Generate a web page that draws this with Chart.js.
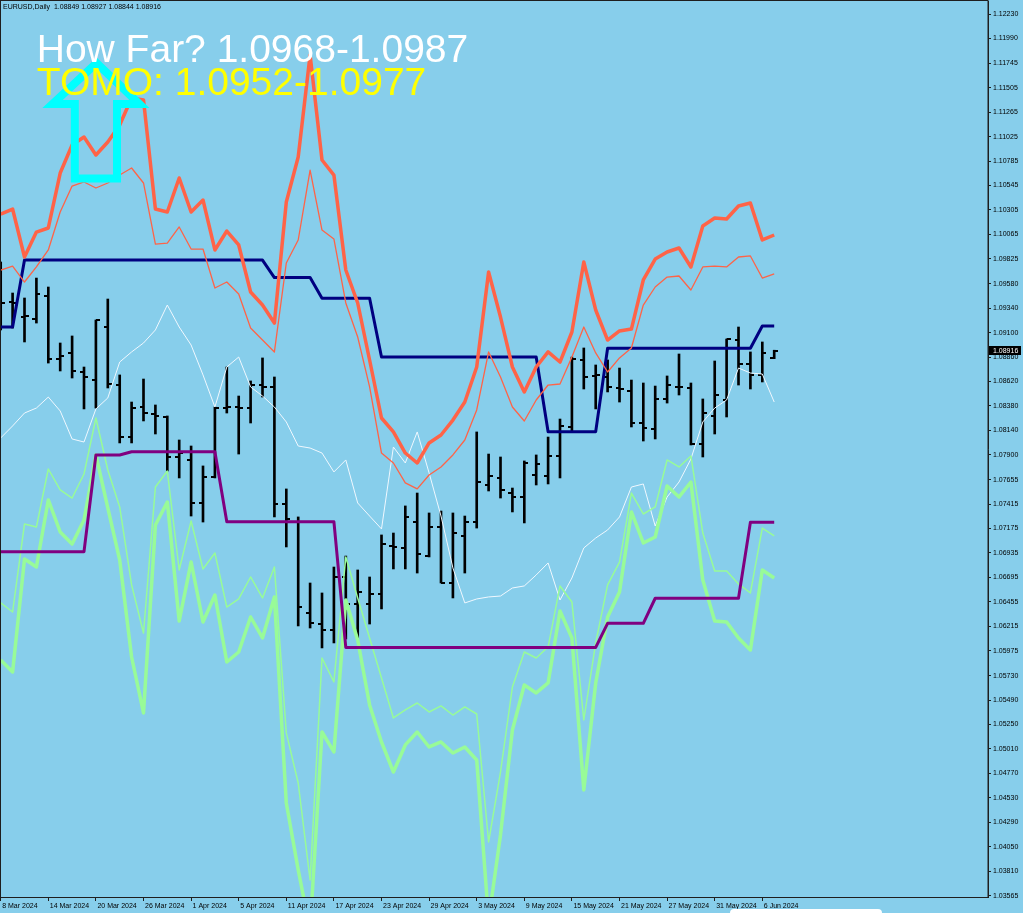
<!DOCTYPE html>
<html>
<head>
<meta charset="utf-8">
<script src="https://cdn.jsdelivr.net/npm/chart.js@4.4.1/dist/chart.umd.min.js"></script>
<style>
html, body { margin: 0; padding: 0; background: #87CEEB; }
canvas { display: block; }
</style>
</head>
<body>
<canvas id="eurusdCanvas" width="1023" height="913"></canvas>
<script>
// EURUSD daily, 8 Mar 2024 .. 7 Jun 2024 (one entry per trading day)
const barOpen = [1.09371,1.09401,1.09253,1.09234,1.09460,1.08841,1.08900,1.08713,1.08634,1.09155,
    1.08585,1.08074,1.08369,1.08300,1.08271,1.07878,1.07849,1.07426,1.07682,1.08359,
    1.08369,1.08359,1.08585,1.08566,1.07416,1.07239,1.06345,1.06237,1.06178,1.06699,
    1.06434,1.06434,1.06532,1.07004,1.06984,1.07239,1.06905,1.07190,1.06640,1.07102,
    1.07239,1.07603,1.07672,1.07524,1.07485,1.07701,1.07691,1.07888,1.08173,1.08831,
    1.08674,1.08664,1.08556,1.08526,1.08212,1.08153,1.08448,1.08566,1.08556,1.08006,
    1.08281,1.08438,1.09027,1.08792,1.08684,1.08849];
const barHigh = [1.09794,1.09489,1.09440,1.09636,1.09548,1.08998,1.09067,1.08762,1.09224,1.09430,
    1.08684,1.08418,1.08644,1.08389,1.08281,1.08045,1.07986,1.07790,1.08369,1.08762,
    1.08477,1.08625,1.08851,1.08664,1.07564,1.07289,1.06640,1.06542,1.06797,1.06905,
    1.06768,1.06699,1.07112,1.07131,1.07397,1.07524,1.07328,1.07347,1.07328,1.07298,
    1.08124,1.07907,1.07878,1.07573,1.07839,1.07898,1.08074,1.08251,1.08860,1.08949,
    1.08782,1.08831,1.08752,1.08634,1.08605,1.08575,1.08674,1.08890,1.08605,1.08448,
    1.08821,1.09037,1.09155,1.08910,1.09008,1.08927];
const barLow = [1.09126,1.09145,1.09008,1.09194,1.08801,1.08723,1.08654,1.08350,1.08359,1.08556,
    1.08016,1.08016,1.08232,1.08104,1.07740,1.07672,1.07298,1.07239,1.07672,1.08310,
    1.07907,1.08212,1.08467,1.07289,1.06994,1.06218,1.06198,1.06002,1.06051,1.06090,
    1.06090,1.06237,1.06385,1.06778,1.06778,1.06738,1.06896,1.06640,1.06493,1.06738,
    1.07180,1.07544,1.07475,1.07338,1.07230,1.07603,1.07613,1.07672,1.08124,1.08546,
    1.08350,1.08517,1.08418,1.08173,1.08035,1.08055,1.08408,1.08487,1.07996,1.07878,
    1.08104,1.08271,1.08585,1.08546,1.08615,1.08844];
const barClose = [1.09391,1.09391,1.09263,1.09479,1.08841,1.08870,1.08723,1.08664,1.09224,1.08595,
    1.08074,1.08359,1.08310,1.08281,1.07878,1.07917,1.07426,1.07682,1.08359,1.08369,
    1.08359,1.08585,1.08566,1.07416,1.07269,1.06404,1.06247,1.06178,1.06699,1.06434,
    1.06552,1.06532,1.07023,1.06994,1.07289,1.06925,1.07190,1.06640,1.07131,1.07239,
    1.07632,1.07691,1.07554,1.07485,1.07819,1.07809,1.07888,1.08183,1.08841,1.08664,
    1.08684,1.08566,1.08546,1.08212,1.08163,1.08448,1.08585,1.08566,1.08006,1.08310,
    1.08487,1.09037,1.08792,1.08684,1.08900,1.08916];

// indicator lines
const redThick = [1.10265,1.10314,1.09843,1.10088,1.10128,1.10668,1.10943,1.11022,1.10845,1.10973,
    1.11140,1.11405,1.11385,1.10314,1.10285,1.10619,1.10285,1.10403,1.09912,1.10098,
    1.09961,1.09499,1.09371,1.09194,1.10383,1.10825,1.11827,1.10796,1.10648,1.09715,
    1.09391,1.08831,1.08261,1.08124,1.07917,1.07819,1.08016,1.08094,1.08241,1.08418,
    1.08762,1.09695,1.09253,1.08762,1.08517,1.08762,1.08910,1.08811,1.09106,1.09794,
    1.09322,1.09027,1.09116,1.09135,1.09617,1.09823,1.09892,1.09931,1.09745,1.10147,
    1.10226,1.10216,1.10344,1.10373,1.10010,1.10059];
const redThin = [1.09715,1.09754,1.09597,1.09745,1.09912,1.10285,1.10540,1.10580,1.10521,1.10570,
    1.10648,1.10717,1.10570,1.09970,1.09980,1.10138,1.09921,1.09921,1.09538,1.09597,
    1.09479,1.09145,1.09027,1.08910,1.09784,1.10010,1.10697,1.10108,1.10020,1.09391,
    1.09057,1.08566,1.07917,1.07819,1.07623,1.07564,1.07701,1.07780,1.07898,1.08045,
    1.08340,1.08910,1.08664,1.08369,1.08232,1.08438,1.08585,1.08595,1.08860,1.09155,
    1.08900,1.08713,1.08851,1.08949,1.09371,1.09548,1.09646,1.09656,1.09519,1.09745,
    1.09754,1.09745,1.09843,1.09853,1.09636,1.09676];
const whiteLine = [1.08065,1.08183,1.08310,1.08359,1.08467,1.08330,1.08055,1.08025,1.08350,1.08458,
    1.08811,1.08910,1.08998,1.09126,1.09371,1.09155,1.08978,1.08684,1.08369,1.08762,
    1.08860,1.08566,1.08477,1.08369,1.08222,1.07986,1.07966,1.07917,1.07731,1.07849,
    1.07426,1.07298,1.07171,1.07976,1.07819,1.08124,1.07721,1.07298,1.06788,1.06444,
    1.06483,1.06503,1.06512,1.06591,1.06611,1.06719,1.06837,1.06473,1.06689,1.06984,
    1.07082,1.07161,1.07289,1.07583,1.07613,1.07200,1.07485,1.07632,1.07858,1.08222,
    1.08359,1.08438,1.08752,1.08703,1.08693,1.08418];
const greenThick = [1.05884,1.05766,1.06876,1.06797,1.07456,1.07141,1.07023,1.07259,1.07898,1.07377,
    1.06866,1.05913,1.05363,1.07210,1.07436,1.06267,1.06846,1.06257,1.06522,1.05864,
    1.05962,1.06306,1.06100,1.06503,1.04479,1.03821,1.03231,1.05176,1.04980,1.06473,
    1.06080,1.05442,1.05078,1.04783,1.05049,1.05176,1.05029,1.05078,1.04970,1.05029,
    1.04901,1.03329,1.04165,1.05196,1.05638,1.05560,1.05658,1.06365,1.06100,1.04607,
    1.05658,1.06306,1.06552,1.07338,1.07033,1.07092,1.07593,1.07485,1.07632,1.06670,
    1.06267,1.06257,1.06100,1.05982,1.06768,1.06689];
const greenThin = [1.06444,1.06355,1.07220,1.07190,1.07760,1.07554,1.07475,1.07711,1.08261,1.07750,
    1.07387,1.06621,1.06149,1.07583,1.07740,1.06768,1.07249,1.06778,1.06935,1.06404,
    1.06483,1.06699,1.06493,1.06797,1.05167,1.04675,1.03722,1.05903,1.05668,1.06896,
    1.06493,1.06100,1.05707,1.05314,1.05393,1.05461,1.05373,1.05432,1.05343,1.05422,
    1.05353,1.04096,1.04783,1.05618,1.05962,1.05903,1.06011,1.06611,1.06454,1.05294,
    1.06051,1.06621,1.06846,1.07524,1.07318,1.07387,1.07849,1.07780,1.07888,1.07131,
    1.06758,1.06758,1.06630,1.06542,1.07180,1.07102];
const navyLine = [1.09155,1.09155,1.09813,1.09813,1.09813,1.09813,1.09813,1.09813,1.09813,1.09813,
    1.09813,1.09813,1.09813,1.09813,1.09813,1.09813,1.09813,1.09813,1.09813,1.09813,
    1.09813,1.09813,1.09813,1.09641,1.09641,1.09641,1.09641,1.09437,1.09437,1.09437,
    1.09437,1.09437,1.08860,1.08860,1.08860,1.08860,1.08860,1.08860,1.08860,1.08860,
    1.08860,1.08860,1.08860,1.08860,1.08860,1.08860,1.08127,1.08127,1.08127,1.08127,
    1.08127,1.08946,1.08946,1.08946,1.08946,1.08946,1.08946,1.08946,1.08946,1.08946,
    1.08946,1.08946,1.08946,1.08946,1.09165,1.09165];
const purpleLine = [1.06948,1.06948,1.06948,1.06948,1.06948,1.06948,1.06948,1.06948,1.07898,1.07898,
    1.07898,1.07930,1.07930,1.07930,1.07930,1.07930,1.07930,1.07930,1.07930,1.07242,
    1.07242,1.07242,1.07242,1.07242,1.07242,1.07242,1.07242,1.07242,1.07242,1.06007,
    1.06007,1.06007,1.06007,1.06007,1.06007,1.06007,1.06007,1.06007,1.06007,1.06007,
    1.06007,1.06007,1.06007,1.06007,1.06007,1.06007,1.06007,1.06007,1.06007,1.06007,
    1.06007,1.06244,1.06244,1.06244,1.06244,1.06490,1.06490,1.06490,1.06490,1.06490,
    1.06490,1.06490,1.06490,1.07236,1.07236,1.07236];

// axis ticks
const priceTicks = [1.12230,1.11990,1.11745,1.11505,1.11265,1.11025,1.10785,1.10545,1.10305,1.10065,
    1.09825,1.09580,1.09340,1.09100,1.08860,1.08620,1.08380,1.08140,1.07900,1.07655,
    1.07415,1.07175,1.06935,1.06695,1.06455,1.06215,1.05975,1.05730,1.05490,1.05250,
    1.05010,1.04770,1.04530,1.04290,1.04050,1.03810,1.03565];
const dateTickIdx = [0,4,8,12,16,20,24,28,32,36,40,44,48,52,56,60,64];
const dateTickLabels = ['8 Mar 2024','14 Mar 2024','20 Mar 2024','26 Mar 2024','1 Apr 2024','5 Apr 2024',
    '11 Apr 2024','17 Apr 2024','23 Apr 2024','29 Apr 2024','3 May 2024','9 May 2024','15 May 2024',
    '21 May 2024','27 May 2024','31 May 2024','6 Jun 2024'];

// visible window
const xMin = -0.059, xMax = 82.966;
const yMin = 1.03555, yMax = 1.12358;

// chart objects (anchored in bar index / price)
const chartNotes = [
    {text: 'How Far? 1.0968-1.0987', at: [3.03, 1.11758], color: '#FFFFFF'},
    {text: 'TOMO: 1.0952-1.0977', at: [3.03, 1.11434], color: '#FFFF00'}
];
const arrowAnchor = [8.05, 1.11749];

const axisFont = {family: "'Liberation Sans', Arial, sans-serif", size: 7};
const frameColor = '#1e1e1e';

function xy(arr) {
    return arr.map((v, i) => ({x: i, y: v}));
}

// little open/close tick used as point style
function tickMark(side) {
    let c = document.createElement('canvas');
    c.width = 8;
    c.height = 2;
    let g = c.getContext('2d');
    g.fillStyle = '#000000';
    g.fillRect(side === 'left' ? 0 : 4, 0, 4, 2);
    return c;
}

function lineSet(data, color, width, order) {
    return {
        type: 'line',
        data: xy(data),
        borderColor: color,
        borderWidth: width,
        borderJoinStyle: 'round',
        pointRadius: 0,
        tension: 0,
        fill: false,
        order: order
    };
}

// no label overhang padding, the frame must sit at the canvas edges
function noPad(s) {
    s.paddingTop = 0;
    s.paddingBottom = 0;
    s.paddingLeft = 0;
    s.paddingRight = 0;
}

const backgroundPlugin = {
    id: 'background',
    beforeDraw(chart) {
        let c = chart.ctx;
        c.save();
        c.fillStyle = '#87CEEB';
        c.fillRect(0, 0, chart.width, chart.height);
        c.restore();
    }
};

const objectsPlugin = {
    id: 'objects',
    afterDatasetsDraw(chart) {
        let c = chart.ctx;
        let xs = chart.scales.x, ys = chart.scales.y;
        let ax = xs.getPixelForValue(arrowAnchor[0]);
        let ay = ys.getPixelForValue(arrowAnchor[1]);
        // hollow up arrow
        let outline = [[0, 0], [43, 41], [20.5, 41], [20.5, 115.5], [-21.7, 115.5], [-21.7, 41], [-44, 41]];
        c.save();
        c.strokeStyle = '#00FFFF';
        c.lineWidth = 8;
        c.lineJoin = 'miter';
        c.beginPath();
        outline.forEach((p, i) => {
            if (i === 0) c.moveTo(ax + p[0], ay + p[1]);
            else c.lineTo(ax + p[0], ay + p[1]);
        });
        c.closePath();
        c.stroke();

        c.font = "39px 'Liberation Sans', Arial, sans-serif";
        c.textBaseline = 'alphabetic';
        c.textAlign = 'left';
        for (let n of chartNotes) {
            c.fillStyle = n.color;
            c.fillText(n.text, xs.getPixelForValue(n.at[0]), ys.getPixelForValue(n.at[1]));
        }
        c.restore();
    }
};

const framePlugin = {
    id: 'frame',
    afterDraw(chart) {
        let c = chart.ctx;
        let a = chart.chartArea;
        let ys = chart.scales.y;
        let last = barClose.length - 1;
        c.save();
        c.strokeStyle = frameColor;
        c.lineWidth = 1;
        c.strokeRect(0.5, 0.5, a.right - 0.5, a.bottom);

        // header line
        c.fillStyle = '#000000';
        c.font = "7px 'Liberation Sans', Arial, sans-serif";
        c.textBaseline = 'alphabetic';
        c.fillText('EURUSD,Daily  ' + barOpen[last].toFixed(5) + ' ' + barHigh[last].toFixed(5) + ' ' +
            barLow[last].toFixed(5) + ' ' + barClose[last].toFixed(5), 3, 8.5);

        // last price tag
        let py = ys.getPixelForValue(barClose[last]);
        c.fillStyle = '#000000';
        c.fillRect(a.right + 1, Math.round(py) - 5, 32, 9);
        c.fillStyle = '#FFFFFF';
        c.textBaseline = 'middle';
        c.fillText(barClose[last].toFixed(5), a.right + 5, py);

        // scroll box at the bottom edge
        c.fillStyle = '#FFFFFF';
        c.beginPath();
        c.roundRect(730, 909, 152, 10, 4);
        c.fill();
        c.restore();
    }
};

let ctx = document.getElementById('eurusdCanvas').getContext('2d');
let eurusdChart = new Chart(ctx, {
    type: 'line',
    data: {
        datasets: [
            lineSet(redThick, '#FF6347', 3.5, 1),
            lineSet(redThin, '#FF6347', 1.3, 2),
            lineSet(navyLine, '#000080', 3, 3),
            lineSet(purpleLine, '#800080', 3, 4),
            lineSet(greenThick, '#98FB98', 3.5, 5),
            lineSet(greenThin, '#98FB98', 1.5, 6),
            lineSet(whiteLine, '#F0F8FF', 1, 7),
            {
                type: 'scatter',
                data: xy(barOpen),
                pointStyle: tickMark('left'),
                pointRadius: 1,
                order: 8
            },
            {
                type: 'scatter',
                data: xy(barClose),
                pointStyle: tickMark('right'),
                pointRadius: 1,
                order: 8
            },
            {
                type: 'bar',
                data: barHigh.map((h, i) => ({x: i, y: [barLow[i], h]})),
                backgroundColor: '#000000',
                barThickness: 2,
                order: 9
            }
        ]
    },
    plugins: [backgroundPlugin, objectsPlugin, framePlugin],
    options: {
        responsive: false,
        animation: false,
        events: [],
        layout: {autoPadding: false, padding: {top: 1, left: 0, right: 0, bottom: 0}},
        plugins: {
            legend: {display: false},
            tooltip: {enabled: false}
        },
        scales: {
            x: {
                type: 'linear',
                position: 'bottom',
                offset: false,
                min: xMin,
                max: xMax,
                afterBuildTicks: (s) => { s.ticks = dateTickIdx.map(v => ({value: v})); },
                afterFit: (s) => { s.height = 16; noPad(s); },
                ticks: {
                    autoSkip: false,
                    maxRotation: 0,
                    align: 'start',
                    labelOffset: 1.5,
                    padding: 1,
                    color: '#000000',
                    font: axisFont,
                    callback: (v, i) => dateTickLabels[i]
                },
                grid: {offset: false, drawOnChartArea: false, drawTicks: true, tickLength: 4, color: frameColor},
                border: {display: true, color: frameColor}
            },
            y: {
                type: 'linear',
                position: 'right',
                offset: false,
                min: yMin,
                max: yMax,
                afterBuildTicks: (s) => { s.ticks = priceTicks.map(v => ({value: v})); },
                afterFit: (s) => { s.width = 35; noPad(s); },
                ticks: {
                    autoSkip: false,
                    padding: 2,
                    color: '#000000',
                    font: axisFont,
                    callback: (v) => v.toFixed(5)
                },
                grid: {drawOnChartArea: false, drawTicks: true, tickLength: 3, color: frameColor},
                border: {display: true, color: frameColor}
            }
        }
    }
});
</script>
</body>
</html>
